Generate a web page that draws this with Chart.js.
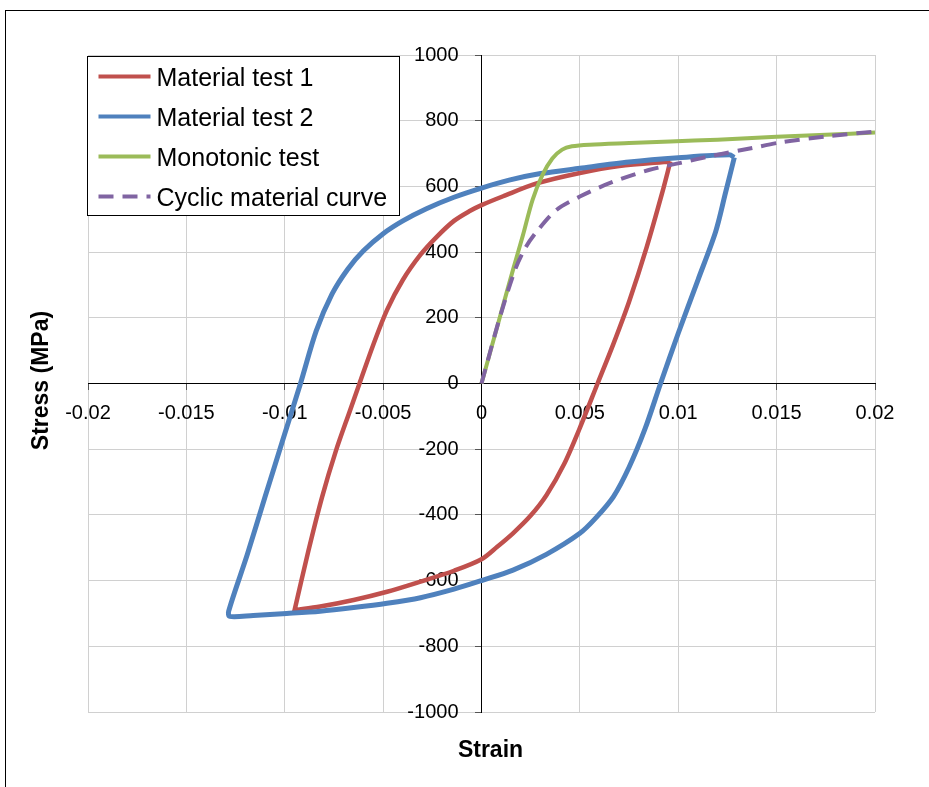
<!DOCTYPE html>
<html lang="en">
<head>
<meta charset="UTF-8">
<title>Stress-strain hysteresis</title>
<script src="https://cdn.jsdelivr.net/npm/chart.js"></script>
<style>
  body { margin: 0; background: #fff; }
  #wrap { position: relative; width: 929px; height: 787px; overflow: hidden; }
  #frame { position: absolute; left: 5px; top: 10px; width: 940px; height: 800px; border-left: 1px solid #000; border-top: 1px solid #000; }
  canvas { position: absolute; left: 0; top: 0; }
</style>
</head>
<body>
<div id="wrap">
  <div id="frame"></div>
  <canvas id="chart" width="929" height="787"></canvas>
</div>
<script>
// axis ticks
const xTickValues = [-0.02, -0.015, -0.01, -0.005, 0, 0.005, 0.01, 0.015, 0.02];
const xTickLabels = ['-0.02', '-0.015', '-0.01', '-0.005', '0', '0.005', '0.01', '0.015', '0.02'];
const yTickValues = [-1000, -800, -600, -400, -200, 0, 200, 400, 600, 800, 1000];
const yTickLabels = ['-1000', '-800', '-600', '-400', '-200', '0', '200', '400', '600', '800', '1000'];
const xTitle = 'Strain';
const yTitle = 'Stress (MPa)';

// Material test 1 (red loop), starting at the upper tip; the lower tip is listed twice to keep it sharp
const test1Strain = [0.0096, 0.0092, 0.0084, 0.0075, 0.0067, 0.0059, 0.0050, 0.0042, 0.0033, 0.0025, 0.0016, 0.0008, 0, -0.0014, -0.0031, -0.0048, -0.0065, -0.0082, -0.0095, -0.0095,
  -0.0088, -0.0081, -0.0074, -0.0067, -0.0062, -0.0055, -0.0048, -0.0040, -0.0031, -0.0023, -0.0014, -0.0006, 0, 0.0011, 0.0028, 0.0050, 0.0070, 0.0096];
const test1Stress = [676, 584, 416, 249, 120, 0, -135, -245, -340, -402, -456, -497, -535, -570, -603, -634, -659, -679, -690, -690,
  -510, -345, -205, -85, 0, 118, 224, 315, 392, 445, 495, 525, 543, 570, 609, 641, 662, 676];

// Material test 2 (blue loop), starting at the upper tip
const test2Strain = [0.01285, 0.0124, 0.0119, 0.0110, 0.0100, 0.0091, 0.0083, 0.0075, 0.0067, 0.0058, 0.0050, 0.0033, 0.0016, 0, -0.0014, -0.0031, -0.0048, -0.0065, -0.0082, -0.0099, -0.0116, -0.0128,
  -0.01285, -0.0119, -0.0110, -0.0101, -0.0092, -0.0084, -0.0076, -0.0068, -0.0060, -0.0050, -0.0040, -0.0028, -0.0014, 0, 0.0014, 0.0030, 0.0050, 0.0075, 0.0100, 0.0126, 0.01285];
const test2Stress = [688, 580, 462, 315, 153, 0, -140, -255, -345, -410, -456, -520, -568, -600, -626, -652, -669, -682, -693, -700, -706, -709,
  -693, -520, -345, -172, 0, 160, 272, 348, 404, 456, 495, 532, 567, 595, 619, 639, 655, 674, 687, 696, 688];

// Monotonic test (green)
const monoStrain = [0, 0.0009, 0.0016, 0.0021, 0.0026, 0.0031, 0.0036, 0.0041, 0.0046, 0.0055, 0.0075, 0.0096, 0.0120, 0.0150, 0.0175, 0.0200];
const monoStress = [0, 195, 346, 450, 560, 635, 685, 712, 722, 727, 732, 737, 742, 751, 757, 764];

// Cyclic material curve (purple dashed)
const cyclicStrain = [0, 0.0009, 0.0017, 0.0022, 0.0028, 0.0038, 0.0050, 0.0066, 0.0085, 0.0100, 0.0118, 0.0137, 0.0152, 0.0175, 0.0200];
const cyclicStress = [0, 195, 345, 410, 462, 528, 569, 612, 650, 670, 694, 716, 734, 752, 767];

function pts(xs, ys) {
    return xs.map((x, i) => ({ x: x, y: ys[i] }));
}

const FONT = '"Liberation Sans", Arial, sans-serif';
Chart.defaults.font.family = FONT;
Chart.defaults.color = '#000';

// titles, legend box, y labels moved off the centred axis
const extras = {
    id: 'extras',
    beforeDraw(chart) {
        const items = chart.scales.y.getLabelItems();
        if (!items.moved) {
            const x0 = chart.scales.x.getPixelForValue(0);
            items.forEach(it => { it.options.translation[0] = x0 - 23; it.options.textAlign = 'right'; });
            items.moved = true;
        }
    },
    afterDraw(chart) {
        const { ctx, chartArea: a } = chart;
        ctx.save();
        ctx.fillStyle = '#000';
        ctx.font = 'bold 23px ' + FONT;
        ctx.textAlign = 'center';
        ctx.textBaseline = 'middle';
        ctx.fillText(xTitle, (a.left + a.right) / 2 + 9, a.bottom + 39);
        ctx.save();
        ctx.translate(a.left - 46, (a.top + a.bottom) / 2 - 3);
        ctx.rotate(-Math.PI / 2);
        ctx.fillText(yTitle, 0, 0);
        ctx.restore();

        // legend
        const bx = a.left - 0.5, by = a.top + 1.5, bw = 312, bh = 159;
        ctx.fillStyle = '#fff';
        ctx.fillRect(bx, by, bw, bh);
        ctx.strokeStyle = '#000';
        ctx.lineWidth = 1;
        ctx.strokeRect(bx, by, bw, bh);
        ctx.font = '25px ' + FONT;
        ctx.textAlign = 'left';
        ctx.textBaseline = 'alphabetic';
        chart.data.datasets.forEach((ds, i) => {
            const yy = by + 20 + i * 40;
            ctx.beginPath();
            ctx.strokeStyle = ds.borderColor;
            ctx.lineWidth = 4;
            ctx.setLineDash(ds.borderDash || []);
            ctx.moveTo(bx + 11, yy);
            ctx.lineTo(bx + 63, yy);
            ctx.stroke();
            ctx.setLineDash([]);
            ctx.fillStyle = '#000';
            ctx.fillText(ds.label, bx + 69, yy + 9);
        });
        ctx.restore();
    }
};

new Chart(document.getElementById('chart').getContext('2d'), {
    type: 'scatter',
    data: {
        datasets: [
            { label: 'Material test 1', data: pts(test1Strain, test1Stress), borderColor: '#C0504D', borderWidth: 4.5, order: 4 },
            { label: 'Material test 2', data: pts(test2Strain, test2Stress), borderColor: '#4F81BD', borderWidth: 5, order: 3 },
            { label: 'Monotonic test', data: pts(monoStrain, monoStress), borderColor: '#9BBB59', borderWidth: 4, order: 2 },
            { label: 'Cyclic material curve', data: pts(cyclicStrain, cyclicStress), borderColor: '#8064A2', borderWidth: 4, borderDash: [15, 9], order: 1 }
        ].map(ds => Object.assign(ds, { showLine: true, pointRadius: 0, pointHoverRadius: 0, tension: 0.3, fill: false }))
    },
    options: {
        responsive: false,
        animation: false,
        events: [],
        layout: { padding: { left: 88, top: 55, right: 54, bottom: 75 } },
        plugins: { legend: { display: false }, tooltip: { enabled: false } },
        scales: {
            x: {
                type: 'linear',
                position: { y: 0 },
                min: -0.02, max: 0.02,
                afterBuildTicks: s => { s.ticks = xTickValues.map(v => ({ value: v })); },
                ticks: { callback: (v, i) => xTickLabels[i], font: { size: 20 }, color: '#000', padding: 12, autoSkip: false, maxRotation: 0 },
                grid: { color: '#d0d0d0', lineWidth: 1, tickLength: 6, tickColor: '#555' },
                border: { color: '#000', width: 1 }
            },
            y: {
                type: 'linear',
                position: { x: 0 },
                min: -1000, max: 1000,
                afterBuildTicks: s => { s.ticks = yTickValues.map(v => ({ value: v })); },
                ticks: { callback: (v, i) => yTickLabels[i], font: { size: 20 }, color: '#000', padding: 17, autoSkip: false },
                grid: { color: '#d0d0d0', lineWidth: 1, tickLength: 6, tickColor: '#555' },
                border: { color: '#000', width: 1 }
            }
        }
    },
    plugins: [extras]
});
</script>
</body>
</html>
